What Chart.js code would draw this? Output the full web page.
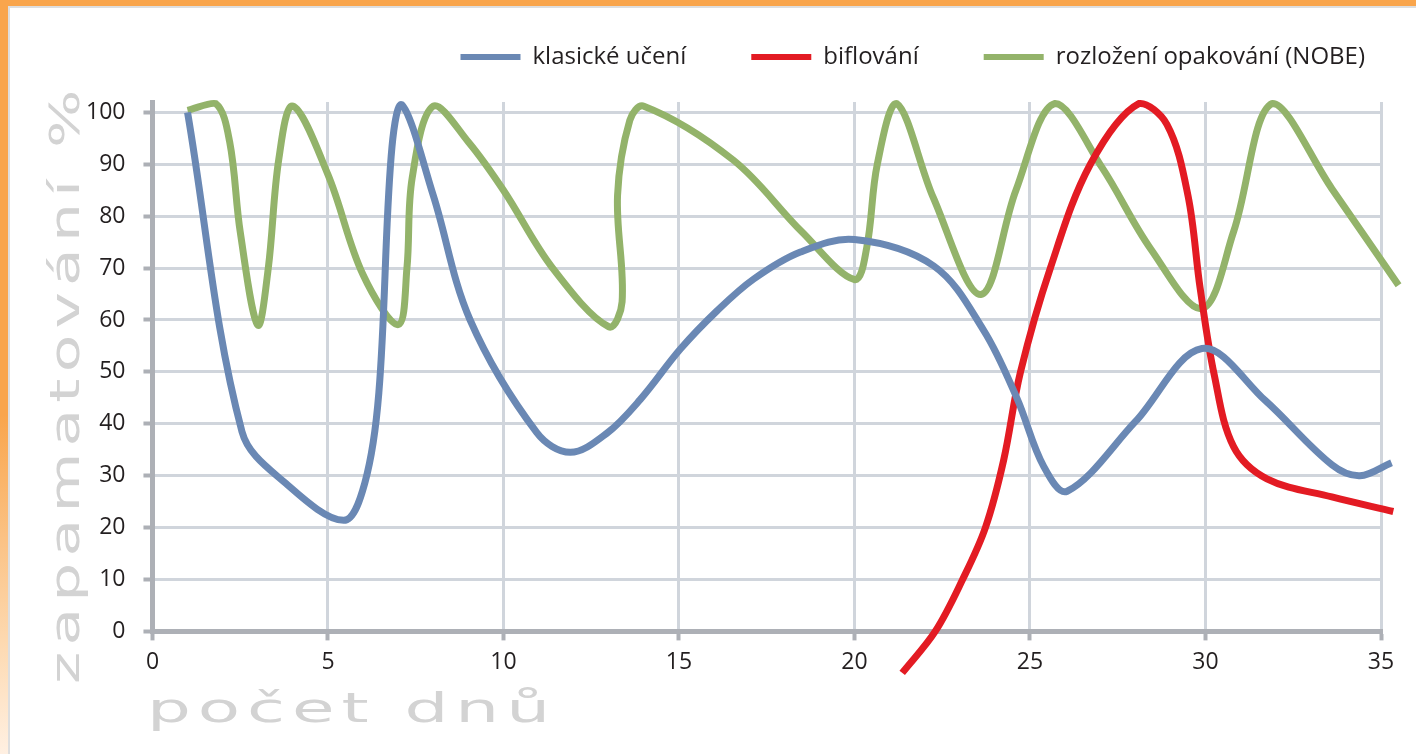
<!DOCTYPE html>
<html>
<head>
<meta charset="utf-8">
<script src="https://cdn.jsdelivr.net/npm/chart.js@4/dist/chart.umd.min.js"></script>
<style>
  body{margin:0;width:1416px;height:754px;overflow:hidden;background:#fff;position:relative;}
  #topBand{position:absolute;left:0;top:0;width:1416px;height:6px;background:#f9a54c;}
  #leftBand{position:absolute;left:0;top:0;width:8px;height:754px;
    background:linear-gradient(to bottom,#f9a54c 0%,#f9a54c 55%,#fbc386 72%,#fdd9b0 85%,#fff0e2 100%);}
  #innerLine{position:absolute;left:8px;top:6px;width:1408px;height:748px;
    border-left:2px solid #dedede;border-top:2px solid #dedede;box-sizing:border-box;}
  #chartBox{position:absolute;left:0;top:0;width:1416px;height:754px;}
  .axisTitle{position:absolute;white-space:nowrap;font-family:"DejaVu Sans";
    font-size:40px;color:#d3d3d3;letter-spacing:4px;line-height:1;}
  #xTitle{left:147px;top:688px;transform-origin:0 0;}
  #yTitle{left:45px;top:684px;transform-origin:0 0;}
</style>
</head>
<body>
<div id="topBand"></div>
<div id="leftBand"></div>
<div id="innerLine"></div>
<div id="chartBox"><canvas id="chart" width="1416" height="754"></canvas></div>
<div id="xTitle" class="axisTitle">počet dnů</div>
<div id="yTitle" class="axisTitle">zapamatování %</div>
<script>
// series names
const seriesNames = ["klasické učení", "biflování", "rozložení opakování (NOBE)"];

// klasické učení
const blueX = [1, 2.55, 3.8, 5.45, 6.05, 6.45, 6.8, 7.1, 8, 9.05, 10.95, 11.9, 12.95, 13.9, 15.04, 16.09, 17.13, 18.46, 20, 22.26, 23.68, 24.63, 25.39, 26.06, 28, 29.9, 31.7, 33.6, 34.4, 35.3];
const blueY = [100, 38.5, 28.5, 21.4, 28.6, 46, 91.5, 101.5, 84, 60, 38.3, 34.5, 38.2, 44.7, 54.4, 61.8, 67.9, 73.1, 75.5, 70.4, 58, 44.9, 31.8, 27, 40.4, 54.5, 44.5, 32.1, 30, 32.5];

// biflování
const redX = [21.36, 22.3, 23.08, 23.73, 24.25, 24.73, 25.58, 26.72, 28.1, 28.9, 29.5, 29.85, 30.25, 30.8, 31.75, 33.6, 35.35];
const redY = [-8, 0, 10, 20, 33, 50, 70, 90, 101.7, 97.7, 84, 66, 49.4, 35.6, 29.4, 25.9, 23.1];

// rozložení opakování (NOBE)
const greenX = [1, 1.8, 2.2, 2.5, 3.0, 3.3, 3.6, 4.0, 5.0, 6.0, 7.0, 7.25, 7.4, 8.0, 9.0, 10, 11.4, 13, 13.38, 13.25, 13.6, 14, 16.55, 18.5, 20, 20.35, 20.65, 21.2, 22.25, 23.6, 24.6, 25.7, 27.05, 28.45, 29.9, 30.8, 31.9, 33.6, 35.5];
const greenY = [100.4, 101.7, 94.3, 77, 59, 70, 91, 101.2, 88, 68.7, 59.1, 70, 87.4, 101.2, 94.3, 85, 70, 58.7, 63.5, 84, 98.5, 101.2, 90.8, 77, 67.8, 74, 90, 101.7, 83.5, 64.9, 85, 101.7, 89.4, 73.6, 62.2, 77, 101.7, 85.3, 66.7];

// axis ticks
const xTicks = [0, 5, 10, 15, 20, 25, 30, 35];
const yTicks = [0, 10, 20, 30, 40, 50, 60, 70, 80, 90, 100];

const colors = ["#6a88b4", "#e31b23", "#93b36a"];

function toPoints(xs, ys){
  let pts = [];
  for(let i = 0; i < xs.length; i++){
    pts.push({x:xs[i], y:ys[i]});}
  return pts;
}

const seriesData = [
  toPoints(blueX, blueY),
  toPoints(redX, redY),
  toPoints(greenX, greenY)];

let datasets = [];
for(let i = 0; i < seriesNames.length; i++){
  datasets.push({
    label:seriesNames[i],
    data:seriesData[i],
    borderColor:colors[i],
    backgroundColor:colors[i],
    borderWidth:7,
    tension:0.35,
    pointRadius:0,
    fill:false,
    clip:false
  });
}

const tickFont = {family:"Open Sans", size:23};
const gridColor = "#d0d5dc";
const axisColor = "#adb0b6";

// legend: wide gaps between items, moved a bit right and up
const legendShift = {
  id:"legendShift",
  beforeInit:function(chart){
    let legend = chart.legend;
    let fit = legend.fit;
    legend.fit = function(){
      fit.bind(legend)();
      this.height -= 21;
    };
    legend.draw = function(){
      let ctx = legend.ctx;
      ctx.save();
      ctx.translate(49, -44);
      legend._draw();
      ctx.restore();
    };
  }
};

new Chart(document.getElementById("chart"), {
  type:"line",
  data:{datasets:datasets},
  options:{
    responsive:false,
    animation:false,
    layout:{padding:{left:68, right:35, top:24, bottom:70}},
    plugins:{
      tooltip:{enabled:false},
      legend:{
        position:"top",
        align:"end",
        labels:{
          font:{family:"Open Sans", size:24},
          color:"#231f20",
          boxWidth:60,
          boxHeight:6,
          padding:65,
          generateLabels:function(chart){
            let items = Chart.defaults.plugins.legend.labels.generateLabels(chart);
            items.forEach(function(item){
              item.lineWidth = 0;
              item.fillStyle = item.strokeStyle;
            });
            return items;
          }
        }
      }
    },
    scales:{
      x:{
        type:"linear",
        min:xTicks[0],
        max:xTicks[xTicks.length - 1],
        afterBuildTicks:function(axis){
          axis.ticks = xTicks.map(function(v){return {value:v};});},
        ticks:{font:tickFont, color:"#231f20", padding:8},
        grid:{color:gridColor, lineWidth:3, tickLength:9, tickColor:axisColor, tickWidth:4},
        border:{color:axisColor, width:5}
      },
      y:{
        min:0,
        max:102,
        afterBuildTicks:function(axis){
          axis.ticks = yTicks.map(function(v){return {value:v};});},
        ticks:{font:tickFont, color:"#231f20", padding:18},
        grid:{color:gridColor, lineWidth:3, tickLength:9, tickColor:axisColor, tickWidth:4},
        border:{color:axisColor, width:5}
      }
    }
  },
  plugins:[legendShift]
});

// stretch the wide axis titles to the width they take in the picture
function fitTitle(id, target, rotate){
  let el = document.getElementById(id);
  let s = target / el.offsetWidth;
  el.style.transform = rotate ? `rotate(-90deg) scaleX(${s})` : `scaleX(${s})`;
}
fitTitle("xTitle", 410, false);
fitTitle("yTitle", 600, true);
</script>
</body>
</html>
